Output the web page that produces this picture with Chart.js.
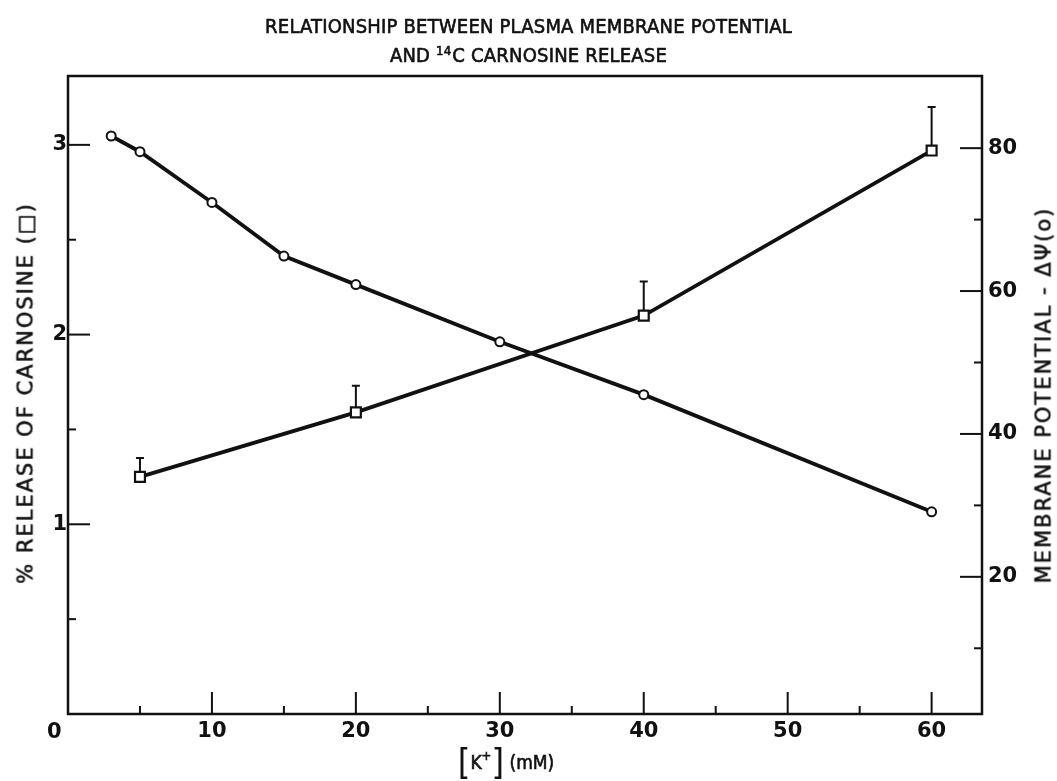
<!DOCTYPE html>
<html>
<head>
<meta charset="utf-8">
<title>Plasma membrane potential and carnosine release</title>
<script src="https://cdn.jsdelivr.net/npm/chart.js@4.4.1/dist/chart.umd.min.js"></script>
<style>
  html, body { margin: 0; padding: 0; background: #fff; }
  #wrap { position: relative; width: 1057px; height: 781px; overflow: hidden; }
  #chart { position: absolute; left: 0; top: 0; }
  .txt {
    position: absolute;
    color: #111;
    font-family: "DejaVu Sans Condensed", "DejaVu Sans", sans-serif;
    white-space: nowrap;
    line-height: 1;
    -webkit-text-stroke: 0.6px #111;
  }
  .title { left: 0; width: 1057px; text-align: center; font-size: 20px; letter-spacing: 0.2px; }
  .title sup { font-size: 13px; vertical-align: 7px; margin-right: 1px; }
  .vert {
    transform: translate(-50%, -50%) rotate(-90deg);
    font-family: "DejaVu Sans", sans-serif;
    font-size: 21px;
    letter-spacing: 2px;
  }
  .xtitle { transform: translate(-50%, -50%); font-size: 19px; }
  .xtitle .br { font-size: 36px; font-weight: 300; vertical-align: -5px; -webkit-text-stroke: 0; }
  .xtitle sup { font-size: 13px; vertical-align: 9px; }
  .corner { font-family: "DejaVu Sans", sans-serif; font-weight: bold; font-size: 21px; -webkit-text-stroke: 0; }
</style>
</head>
<body>
<div id="wrap">
  <canvas id="chart" width="1057" height="781"></canvas>
  <div class="txt title" style="top:16px">RELATIONSHIP BETWEEN PLASMA MEMBRANE POTENTIAL</div>
  <div class="txt title" style="top:44px">AND <sup>14</sup>C CARNOSINE RELEASE</div>
  <div class="txt vert" style="left:26px; top:393px">% RELEASE OF CARNOSINE (□)</div>
  <div class="txt vert" style="left:1044px; top:395px">MEMBRANE POTENTIAL - ΔΨ(o)</div>
  <div class="txt xtitle" style="left:506px; top:762px"><span class="br">[</span>K<sup>+</sup><span class="br">]</span> (mM)</div>
  <div class="txt corner" style="left:47px; top:721px">0</div>
</div>
<script>
// potential curve (circles, right axis)
const kConc = [3, 5, 10, 15, 20, 30, 40, 60];
const membranePotential = [81.7, 79.5, 72.4, 64.9, 60.9, 52.9, 45.5, 29.1];

// carnosine release (squares, left axis), with upward SE bars
const releaseConc = [5, 20, 40, 60];
const carnosineRelease = [1.25, 1.59, 2.10, 2.97];
const releaseError = [0.10, 0.14, 0.18, 0.23];

// labelled tick values on each axis
const xTickLabels = [10, 20, 30, 40, 50, 60];
const leftTickLabels = [1, 2, 3];
const rightTickLabels = [20, 40, 60, 80];

const INK = '#111';
const tickFont = { family: 'DejaVu Sans', size: 21, weight: 'bold' };

function xy(xs, ys) {
  return xs.map((x, i) => ({ x: x, y: ys[i] }));
}

// frame + inward tick marks, drawn like the hand-lettered original
const frameTicks = {
  id: 'frameTicks',
  beforeDatasetsDraw(chart) {
    const { ctx, chartArea: a, scales } = chart;
    ctx.save();
    ctx.strokeStyle = INK;
    ctx.lineCap = 'butt';

    ctx.lineWidth = 2.5;
    ctx.strokeRect(a.left, a.top, a.right - a.left, a.bottom - a.top);

    ctx.lineWidth = 2;
    const major = 22, minor = 8;

    const xs = scales.x;
    for (let v = 5; v <= 60; v += 5) {
      const px = xs.getPixelForValue(v);
      const len = v % 10 === 0 ? major : minor;
      ctx.beginPath();
      ctx.moveTo(px, a.bottom);
      ctx.lineTo(px, a.bottom - len);
      ctx.stroke();
    }

    const yl = scales.y;
    for (let v = 0.5; v <= 3; v += 0.5) {
      const py = yl.getPixelForValue(v);
      const len = Number.isInteger(v) ? major : minor;
      ctx.beginPath();
      ctx.moveTo(a.left, py);
      ctx.lineTo(a.left + len, py);
      ctx.stroke();
    }

    const yr = scales.y1;
    for (let v = 10; v <= 80; v += 10) {
      const py = yr.getPixelForValue(v);
      const len = v % 20 === 0 ? major : minor;
      ctx.beginPath();
      ctx.moveTo(a.right, py);
      ctx.lineTo(a.right - len, py);
      ctx.stroke();
    }
    ctx.restore();
  }
};

// one-sided error bars above the release points
const errorBars = {
  id: 'errorBars',
  beforeDatasetsDraw(chart) {
    const { ctx, scales } = chart;
    ctx.save();
    ctx.strokeStyle = INK;
    ctx.lineWidth = 2;
    releaseConc.forEach((x, i) => {
      const px = scales.x.getPixelForValue(x);
      const y0 = scales.y.getPixelForValue(carnosineRelease[i]);
      const y1 = scales.y.getPixelForValue(carnosineRelease[i] + releaseError[i]);
      ctx.beginPath();
      ctx.moveTo(px, y0);
      ctx.lineTo(px, y1);
      ctx.moveTo(px - 4, y1);
      ctx.lineTo(px + 4, y1);
      ctx.stroke();
    });
    ctx.restore();
  }
};

new Chart(document.getElementById('chart'), {
  type: 'line',
  data: {
    datasets: [
      {
        label: 'Membrane potential',
        data: xy(kConc, membranePotential),
        yAxisID: 'y1',
        borderColor: INK,
        borderWidth: 3.8,
        pointStyle: 'circle',
        pointRadius: 4.5,
        pointBorderWidth: 2,
        pointBackgroundColor: '#fff',
        pointBorderColor: INK,
        tension: 0
      },
      {
        label: 'Carnosine release',
        data: xy(releaseConc, carnosineRelease),
        yAxisID: 'y',
        borderColor: INK,
        borderWidth: 3.8,
        pointStyle: 'rect',
        pointRadius: 7,
        pointBorderWidth: 2.2,
        pointBackgroundColor: '#fff',
        pointBorderColor: INK,
        tension: 0
      }
    ]
  },
  options: {
    responsive: false,
    animation: false,
    devicePixelRatio: 1,
    layout: { padding: { top: 76, left: 0, right: 0, bottom: 0 } },
    plugins: {
      legend: { display: false },
      tooltip: { enabled: false }
    },
    scales: {
      x: {
        type: 'linear',
        min: 0,
        max: 63.5,
        border: { display: false },
        grid: { display: false, drawTicks: false },
        ticks: {
          stepSize: 5,
          includeBounds: false,
          autoSkip: false,
          maxRotation: 0,
          padding: 5,
          color: INK,
          font: tickFont,
          callback: (v) => (xTickLabels.includes(v) ? String(v) : '')
        },
        afterFit: (s) => { s.height = 67; }
      },
      y: {
        position: 'left',
        min: 0,
        max: 3.363,
        border: { display: false },
        grid: { display: false, drawTicks: false },
        ticks: {
          stepSize: 0.5,
          includeBounds: false,
          autoSkip: false,
          padding: 1,
          color: INK,
          font: tickFont,
          callback: (v) => (leftTickLabels.includes(v) ? String(v) : '')
        },
        afterFit: (s) => { s.width = 68; }
      },
      y1: {
        position: 'right',
        min: 0.8,
        max: 90.1,
        border: { display: false },
        grid: { display: false, drawTicks: false },
        ticks: {
          stepSize: 10,
          includeBounds: false,
          autoSkip: false,
          padding: 6,
          color: INK,
          font: tickFont,
          callback: (v) => (rightTickLabels.includes(v) ? String(v) : '')
        },
        afterFit: (s) => { s.width = 75; }
      }
    }
  },
  plugins: [frameTicks, errorBars]
});
</script>
</body>
</html>
